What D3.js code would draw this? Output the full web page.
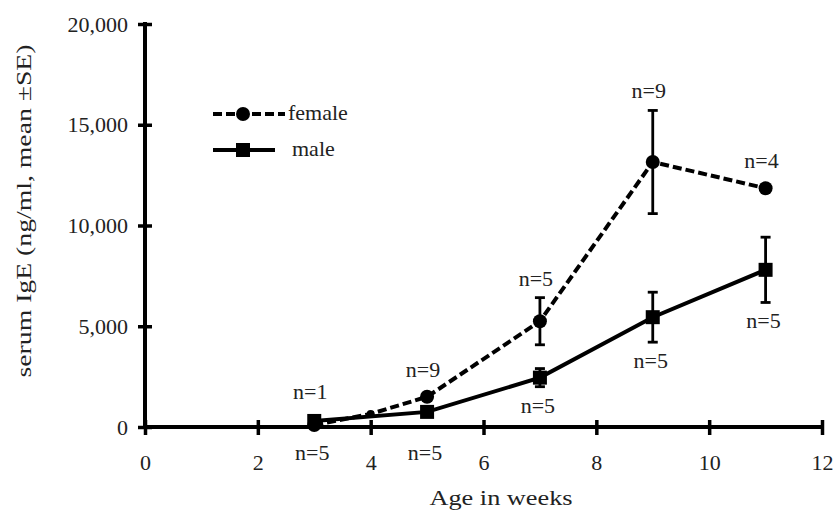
<!DOCTYPE HTML>
<html>
<head>
    <title>Serum IgE by age</title>
    <script src="https://cdnjs.cloudflare.com/ajax/libs/d3/7.8.5/d3.min.js"></script>
    <style>
        body { margin: 0; background: white; }
    </style>
</head>
<body>
    <div id="panel"></div>
    <script>
        // data
        var female_weeks = [3, 4, 5, 7, 9, 11];
        var female_mean = [100, 650, 1500, 5250, 13150, 11850];
        var female_se = [0, 0, 0, 1170, 2560, 0];
        var female_n = [1, null, 9, 5, 9, 4];

        var male_weeks = [3, 5, 7, 9, 11];
        var male_mean = [300, 750, 2450, 5450, 7800];
        var male_se = [0, 0, 450, 1240, 1620];
        var male_n = [5, 5, 5, 5, 5];

        var x_ticks = [0, 2, 4, 6, 8, 10, 12];
        var y_ticks = [0, 5000, 10000, 15000, 20000];
        var legend_names = ["female", "male"];

        var font = "Liberation Serif";
        var fsize = 22;
        var width = 835, height = 513;
        var svg = d3.select("#panel").append("svg")
                    .attr("width", width)
                    .attr("height", height)
                    .attr("font-family", font);

        var x = d3.scaleLinear().domain([0, 12]).range([145, 822]);
        var y = d3.scaleLinear().domain([0, 20000]).range([427, 24]);

        function zip(weeks, mean, se, n) {
            return weeks.map(function(w, i) {
                return {w: w, m: mean[i], se: se[i], n: n[i]};
            });
        }
        var female = zip(female_weeks, female_mean, female_se, female_n);
        var male = zip(male_weeks, male_mean, male_se, male_n);

        // axes
        var yAxis = svg.append("g")
                       .attr("transform", "translate(" + x(0) + ",0)")
                       .call(d3.axisLeft(y).tickValues(y_ticks).tickFormat(d3.format(",")).tickSize(7));
        var xAxis = svg.append("g")
                       .attr("transform", "translate(0," + y(0) + ")")
                       .call(d3.axisBottom(x).tickValues(x_ticks).tickSize(7));

        [yAxis, xAxis].forEach(function(ax) {
            ax.attr("font-family", font).attr("font-size", fsize);
            ax.select(".domain").attr("stroke", "#000").attr("stroke-width", 4);
            ax.selectAll(".tick line").attr("stroke", "#000").attr("stroke-width", 3.5);
            ax.selectAll("text").attr("fill", "#222");
        });
        yAxis.select(".domain").attr("d", "M0," + y(0) + "V" + (y(20000) - 2));
        xAxis.select(".domain").attr("d", "M" + x(0) + ",0H" + (x(12) + 1));
        yAxis.selectAll(".tick line").attr("x1", -7).attr("x2", 7);
        xAxis.selectAll(".tick line").attr("y1", -7).attr("y2", 8);
        yAxis.selectAll(".tick text").attr("x", -17).attr("dy", "0.32em");
        xAxis.selectAll(".tick text").attr("y", 27).attr("dy", "0.71em");

        // axis titles
        svg.append("text")
           .attr("x", 501).attr("y", 505)
           .attr("text-anchor", "middle")
           .attr("font-size", fsize)
           .attr("fill", "#222")
           .attr("textLength", 143)
           .attr("lengthAdjust", "spacingAndGlyphs")
           .text("Age in weeks");
        svg.append("text")
           .attr("transform", "translate(31,211) rotate(-90)")
           .attr("text-anchor", "middle")
           .attr("font-size", fsize)
           .attr("fill", "#222")
           .attr("textLength", 333)
           .attr("lengthAdjust", "spacingAndGlyphs")
           .text("serum IgE  (ng/ml, mean \u00B1SE)");

        var line = d3.line().x(function(d) { return x(d.w); }).y(function(d) { return y(d.m); });

        function errorBars(data) {
            var g = svg.append("g").attr("stroke", "#000").attr("stroke-width", 2.8);
            data.filter(function(d) { return d.se > 0; }).forEach(function(d) {
                g.append("line").attr("x1", x(d.w)).attr("x2", x(d.w))
                 .attr("y1", y(d.m + d.se)).attr("y2", y(d.m - d.se));
                [d.m + d.se, d.m - d.se].forEach(function(v) {
                    g.append("line").attr("x1", x(d.w) - 5).attr("x2", x(d.w) + 5)
                     .attr("y1", y(v)).attr("y2", y(v));
                });
            });
        }

        errorBars(female);
        errorBars(male);

        svg.append("path").datum(male)
           .attr("d", line).attr("fill", "none")
           .attr("stroke", "#000").attr("stroke-width", 4);
        svg.append("path").datum(female)
           .attr("d", line).attr("fill", "none")
           .attr("stroke", "#000").attr("stroke-width", 4)
           .attr("stroke-dasharray", "9,4");

        svg.selectAll(".msq").data(male).enter().append("rect")
           .attr("x", function(d) { return x(d.w) - 7; })
           .attr("y", function(d) { return y(d.m) - 7; })
           .attr("width", 14).attr("height", 14)
           .attr("fill", "#000");
        svg.selectAll(".fdot").data(female).enter().append("circle")
           .attr("cx", function(d) { return x(d.w); })
           .attr("cy", function(d) { return y(d.m); })
           .attr("r", function(d) { return d.n === null ? 4 : 7; })
           .attr("fill", "#000");

        // n labels: female above, male below
        svg.selectAll(".fn").data(female.filter(function(d) { return d.n !== null; })).enter().append("text")
           .attr("x", function(d) { return x(d.w) - 4; })
           .attr("y", function(d) { return Math.min(y(d.m + d.se) - 12, y(Math.max(d.m, 400)) - 20); })
           .attr("text-anchor", "middle")
           .attr("font-size", fsize)
           .attr("fill", "#222")
           .text(function(d) { return "n=" + d.n; });
        svg.selectAll(".mn").data(male).enter().append("text")
           .attr("x", function(d) { return x(d.w) - 2; })
           .attr("y", function(d) {
               var below = y(d.m - d.se) + 26;
               return below > y(0) - 5 ? y(0) + 33 : below;
           })
           .attr("text-anchor", "middle")
           .attr("font-size", fsize)
           .attr("fill", "#222")
           .text(function(d) { return "n=" + d.n; });

        // legend
        var legend = svg.append("g");
        legend_names.forEach(function(name, i) {
            var ly = 114 + i * 36;
            legend.append("line")
                  .attr("x1", 213).attr("x2", i === 0 ? 285 : 275)
                  .attr("y1", ly).attr("y2", ly)
                  .attr("stroke", "#000").attr("stroke-width", 4)
                  .attr("stroke-dasharray", i === 0 ? "9,4" : null);
            if (i === 0) {
                legend.append("circle").attr("cx", 243).attr("cy", ly).attr("r", 7).attr("fill", "#000");
            } else {
                legend.append("rect").attr("x", 236).attr("y", ly - 7).attr("width", 14).attr("height", 14).attr("fill", "#000");
            }
            legend.append("text")
                  .attr("x", i === 0 ? 288 : 292).attr("y", ly + 6)
                  .attr("font-size", fsize)
                  .attr("fill", "#222")
                  .text(name);
        });
    </script>
</body>
</html>
